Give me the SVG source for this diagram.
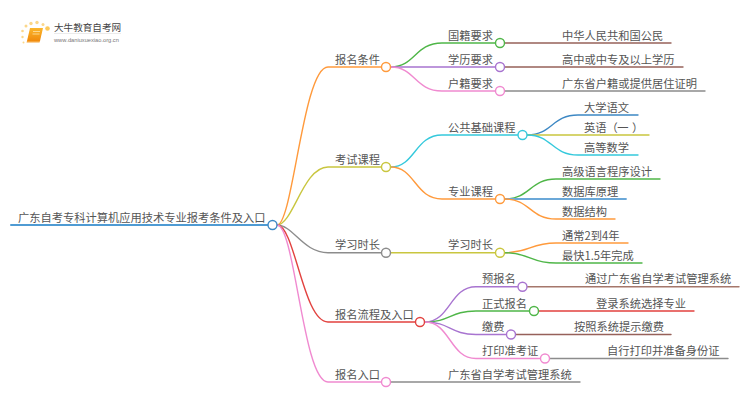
<svg xmlns="http://www.w3.org/2000/svg" width="750" height="410" viewBox="0 0 750 410">
<defs><style>
text{font-family:"Noto Sans CJK SC","Noto Sans",sans-serif;font-size:11.25px;fill:#555;font-kerning:none;transform:translateY(.5px)}
.l{fill:none;stroke-width:1.4;stroke-linecap:round}
.n{fill:#fff;stroke-width:1.4}
</style>
<linearGradient id="bk" x1="0" y1="0" x2="0" y2="1"><stop offset="0" stop-color="#fbb62c"/><stop offset="1" stop-color="#f08a0c"/></linearGradient></defs>
<rect width="750" height="410" fill="#fff"/>
<g id="logo">
<g fill="#fbd78a"><circle cx="43" cy="24.500" r="1.500"/><circle cx="37" cy="22.500" r="1.700"/><circle cx="31" cy="23.500" r="1.700"/><circle cx="26" cy="26" r="1.500"/><circle cx="22.500" cy="31" r="1.300"/><circle cx="22.500" cy="37" r="1.200"/><circle cx="23.500" cy="42.500" r="1"/></g>
<circle cx="47.500" cy="28.500" r="2.300" fill="#fcc95b"/>
<path d="M30 28h13l-3 13h-13z" fill="url(#bk)"/><path d="M27 41h13l-.5 1.500h-13z" fill="#f6a53a"/>
<path d="M33 31.500h7M32.500 34h7" stroke="#fde3a8" stroke-width=".8" fill="none"/>
<text x="54" y="30.500" style="font-size:9.600px;fill:#444">大牛教育自考网</text>
<path d="M54 33.500h67" stroke="#ddd" stroke-width=".6" fill="none"/>
<text x="54" y="41" style="font-size:5.700px;fill:#777;font-family:'Liberation Sans',sans-serif">www.daniuxuexiao.org.cn</text>
</g>
<g id="connectors">
<path class="l" d="M11 225H268" stroke="#4f9bd3" style="stroke-width:2"/>
<path class="l" d="M277 225C293 225 303 67 328 67H381" stroke="#ff9a3c"/>
<path class="l" d="M277 225C293 225 303 167 328 167H381" stroke="#c9c63f"/>
<path class="l" d="M277 225C293 225 303 252.700 328 252.700H381" stroke="#8c8c8c"/>
<path class="l" d="M277 225C295 225 303 322 328 322H415" stroke="#e2423f"/>
<path class="l" d="M277 225C295 225 303 382 328 382H381" stroke="#f08ad0"/>
<path class="l" d="M391 67C415 67 415 43 442 43H495" stroke="#4fb648"/>
<path class="l" d="M391 67H495" stroke="#a874d0"/>
<path class="l" d="M391 67C415 67 415 91 442 91H495" stroke="#f08ad0"/>
<path class="l" d="M391 167C415 167 415 135 442 135H517.500" stroke="#35c9dc"/>
<path class="l" d="M391 167C415 167 415 199 442 199H495" stroke="#ff9a3c"/>
<path class="l" d="M391 252.700H495" stroke="#c9c63f"/>
<path class="l" d="M425 322C450 322 450 286.700 476 286.700H517.500" stroke="#a874d0"/>
<path class="l" d="M425 322C450 322 450 311 476 311H529" stroke="#4fb648"/>
<path class="l" d="M425 322C450 322 450 334.500 476 334.500H506" stroke="#a874d0"/>
<path class="l" d="M425 322C450 322 450 358.500 476 358.500H540" stroke="#f08ad0"/>
<path class="l" d="M505 43H671" stroke="#96615a"/>
<path class="l" d="M505 67H683" stroke="#96615a"/>
<path class="l" d="M505 91H705" stroke="#8c8c8c"/>
<path class="l" d="M527.500 135C552 135 552 115 578 115H638" stroke="#3d88c4"/>
<path class="l" d="M527.500 135H649" stroke="#c9c63f"/>
<path class="l" d="M527.500 135C552 135 552 155 578 155H638" stroke="#35c9dc"/>
<path class="l" d="M505 199C530 199 530 179 556 179H660" stroke="#4fb648"/>
<path class="l" d="M505 199H626" stroke="#6ba8d8" style="stroke-width:1.800"/>
<path class="l" d="M505 199C530 199 530 219 556 219H615" stroke="#ff9a3c"/>
<path class="l" d="M505 252.700C530 252.700 530 243 556 243H628" stroke="#ff9a3c"/>
<path class="l" d="M505 252.700C530 252.700 530 263 556 263H642" stroke="#4fb648"/>
<path class="l" d="M527.500 286.700H739" stroke="#a5776b"/>
<path class="l" d="M539 311H694" stroke="#e2423f"/>
<path class="l" d="M516 334.500H671" stroke="#96615a"/>
<path class="l" d="M550 358.500H728" stroke="#8c8c8c"/>
<path class="l" d="M391 382H580" stroke="#8c8c8c"/>
</g>
<g id="root"><circle class="n" cx="272.500" cy="225" r="4.500" stroke="#3d88c4"/><text x="18" y="221">广东自考专科计算机应用技术专业报考条件及入口</text></g>
<g id="n1"><circle class="n" cx="386" cy="67" r="4.500" stroke="#ff9a3c"/><text x="335" y="63">报名条件</text></g>
<g id="n2"><circle class="n" cx="386" cy="167" r="4.500" stroke="#c9c63f"/><text x="335" y="163">考试课程</text></g>
<g id="n3"><circle class="n" cx="386" cy="252.700" r="4.500" stroke="#8c8c8c"/><text x="335" y="248.700">学习时长</text></g>
<g id="n4"><circle class="n" cx="420" cy="322" r="4.500" stroke="#e2423f"/><text x="335" y="318">报名流程及入口</text></g>
<g id="n5"><circle class="n" cx="386" cy="382" r="4.500" stroke="#f08ad0"/><text x="335" y="378">报名入口</text></g>
<g id="n11"><circle class="n" cx="500" cy="43" r="4.500" stroke="#4fb648"/><text x="448" y="39">国籍要求</text></g>
<g id="n12"><circle class="n" cx="500" cy="67" r="4.500" stroke="#a874d0"/><text x="448" y="63">学历要求</text></g>
<g id="n13"><circle class="n" cx="500" cy="91" r="4.500" stroke="#f08ad0"/><text x="448" y="87">户籍要求</text></g>
<g id="n21"><circle class="n" cx="522.500" cy="135" r="4.500" stroke="#35c9dc"/><text x="448" y="131">公共基础课程</text></g>
<g id="n22"><circle class="n" cx="500" cy="199" r="4.500" stroke="#ff9a3c"/><text x="448" y="195">专业课程</text></g>
<g id="n31"><circle class="n" cx="500" cy="252.700" r="4.500" stroke="#c9c63f"/><text x="448" y="248.700">学习时长</text></g>
<g id="n41"><circle class="n" cx="522.500" cy="286.700" r="4.500" stroke="#a874d0"/><text x="482" y="282.700">预报名</text></g>
<g id="n42"><circle class="n" cx="534" cy="311" r="4.500" stroke="#4fb648"/><text x="482" y="307">正式报名</text></g>
<g id="n43"><circle class="n" cx="511" cy="334.500" r="4.500" stroke="#a874d0"/><text x="482" y="330.500">缴费</text></g>
<g id="n44"><circle class="n" cx="545" cy="358.500" r="4.500" stroke="#f08ad0"/><text x="482" y="354.500">打印准考证</text></g>
<g id="leaves">
<text x="562" y="39">中华人民共和国公民</text>
<text x="562" y="63">高中或中专及以上学历</text>
<text x="562" y="87">广东省户籍或提供居住证明</text>
<text x="584" y="111">大学语文</text>
<text x="584 595.250 606.500 617.250 632" y="131">英语（一）</text>
<text x="584" y="151">高等数学</text>
<text x="562" y="175">高级语言程序设计</text>
<text x="562" y="195">数据库原理</text>
<text x="562" y="215">数据结构</text>
<text x="562" y="239">通常2到4年</text>
<text x="562" y="259">最快1.5年完成</text>
<text x="585" y="282.700">通过广东省自学考试管理系统</text>
<text x="596" y="307">登录系统选择专业</text>
<text x="574" y="330.500">按照系统提示缴费</text>
<text x="607" y="354.500">自行打印并准备身份证</text>
<text x="448" y="378">广东省自学考试管理系统</text>
</g>
</svg>
